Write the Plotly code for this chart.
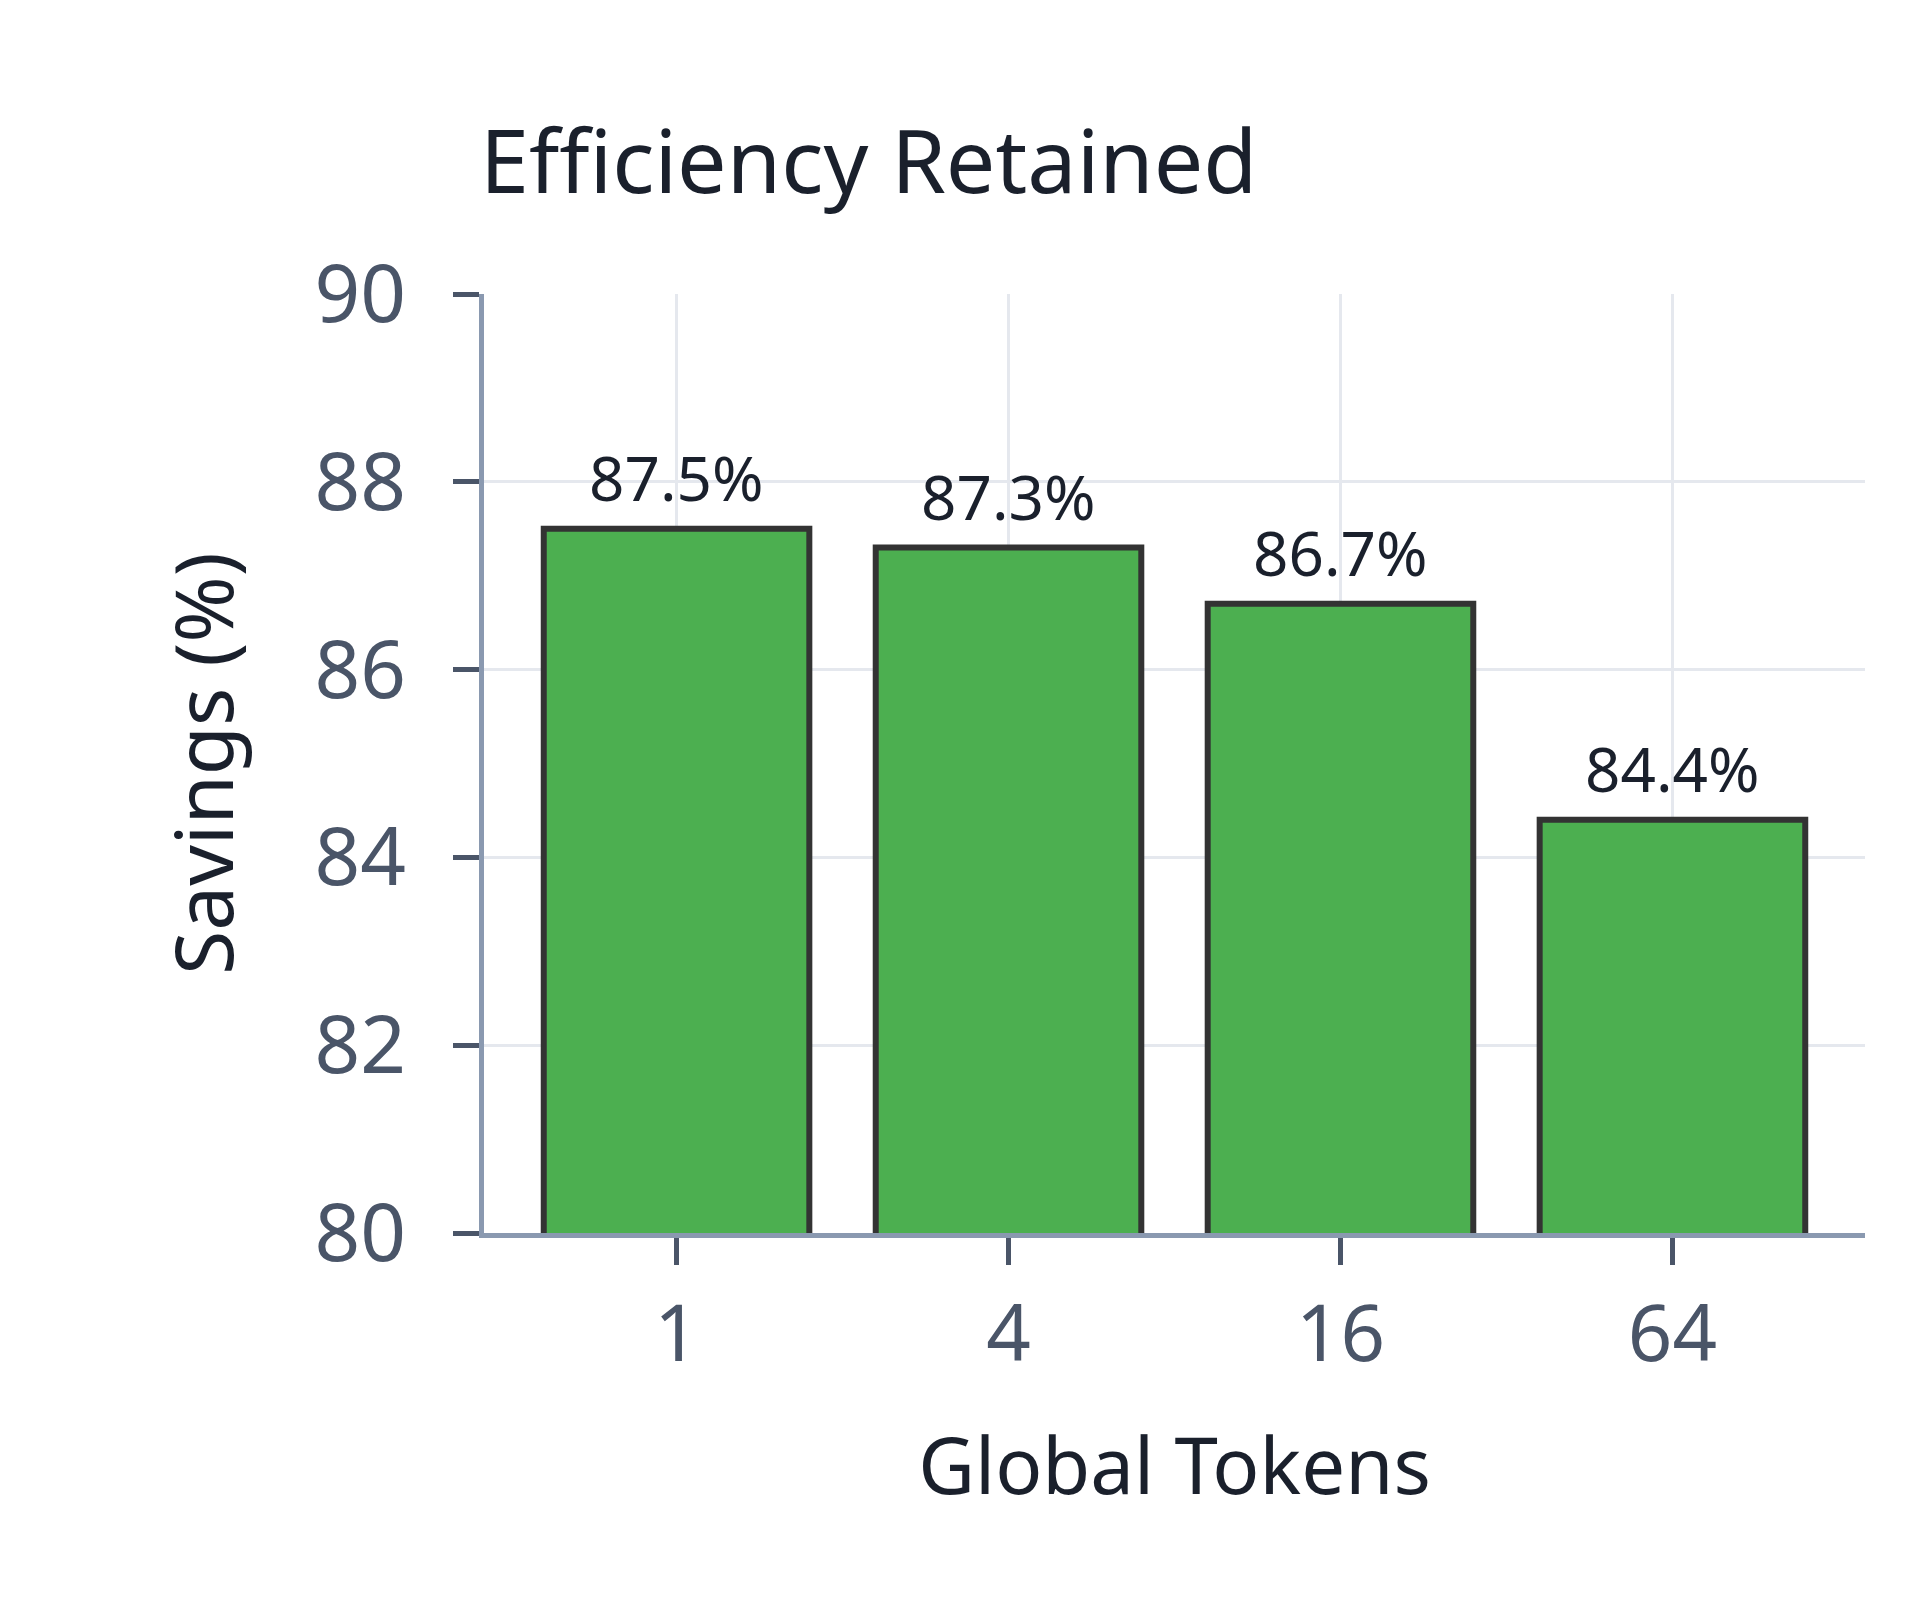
import plotly.graph_objects as go

categories = ["1", "4", "16", "64"]
savings = [87.5, 87.3, 86.7, 84.4]
bar_labels = ["87.5%", "87.3%", "86.7%", "84.4%"]
y_ticks = [80, 82, 84, 86, 88, 90]

FONT = "Noto Sans"
fig = go.Figure()
fig.add_trace(go.Bar(
    x=categories, y=savings,
    marker=dict(color="#4caf50", line=dict(color="#333333", width=6)),
    width=0.8,
    hoverinfo="skip",
))
for i, (v, t) in enumerate(zip(savings, bar_labels)):
    fig.add_annotation(x=i, y=v, xref="x", yref="y", text=t, showarrow=False,
                       yanchor="bottom", yshift=8,
                       font=dict(family=FONT, size=62, color="#1a202c"))

fig.update_layout(
    width=1920, height=1600,
    paper_bgcolor="white", plot_bgcolor="white",
    margin=dict(l=476, r=63, t=286, b=375),
    showlegend=False,
    title=dict(text="Efficiency Retained", x=472/1920, xanchor="left",
               y=1-154/1600, yanchor="middle",
               font=dict(family=FONT, size=88, color="#1a202c")),
    font=dict(family=FONT),
)
fig.update_xaxes(
    type="category", range=[-0.58, 3.58],
    showline=True, linecolor="#8a99b0", linewidth=5,
    showgrid=True, gridcolor="#e5e8ee", gridwidth=3,
    ticks="outside", ticklen=27, tickwidth=5, tickcolor="#4a5568",
    tickfont=dict(family=FONT, size=78, color="#4a5568"),
    ticklabelstandoff=2,
    title=dict(text="Global Tokens", font=dict(family=FONT, size=78, color="#1a202c"), standoff=58),
)
fig.update_yaxes(
    range=[80, 90], tickvals=y_ticks,
    showline=True, linecolor="#8a99b0", linewidth=5,
    showgrid=True, gridcolor="#e5e8ee", gridwidth=3,
    ticks="outside", ticklen=26, tickwidth=5, tickcolor="#4a5568",
    tickfont=dict(family=FONT, size=80, color="#4a5568"),
    ticklabelstandoff=31,
    zeroline=False,
    title=dict(text="Savings (%)", font=dict(family=FONT, size=80, color="#1a202c"), standoff=56),
)
fig.write_html("out.html")
